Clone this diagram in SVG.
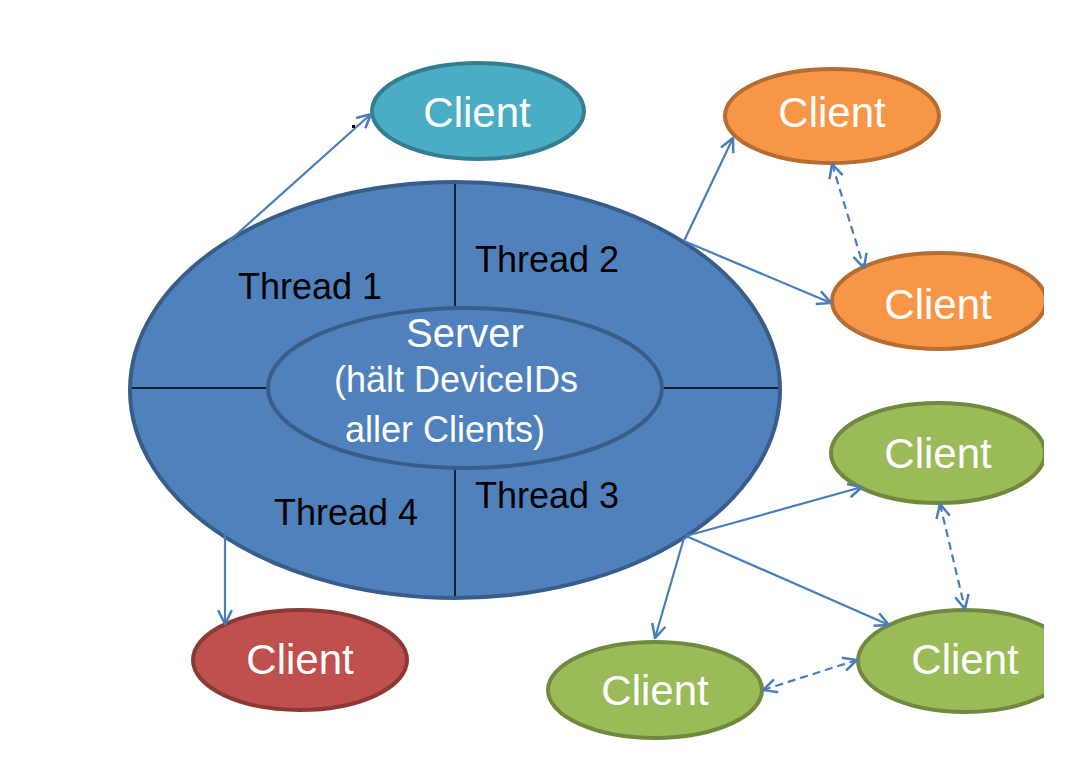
<svg xmlns="http://www.w3.org/2000/svg" width="1088" height="768" viewBox="0 0 1088 768">
<defs>
<clipPath id="page"><rect x="0" y="0" width="1044" height="768"/></clipPath>
<marker id="arr" viewBox="0 0 14 14" refX="13" refY="7" markerWidth="16" markerHeight="16" markerUnits="userSpaceOnUse" orient="auto-start-reverse">
<path d="M1,1 L13,7 L1,13" fill="none" stroke="#4A7EBB" stroke-width="2.2"/>
</marker>
<style>
.srv{fill:#4F81BD;stroke:#385D8A;stroke-width:4}
.div{stroke:#000;stroke-width:1.5}
.thr{font-family:"Liberation Sans",Arial,sans-serif;font-size:36px;fill:#000;text-anchor:middle}
.wt{font-family:"Liberation Sans",Arial,sans-serif;fill:#fff;text-anchor:middle}
.cl{font-size:42px}
.teal{fill:#4BACC6;stroke:#357D91;stroke-width:4}
.orange{fill:#F79646;stroke:#B66D31;stroke-width:4}
.green{fill:#9BBB59;stroke:#71893F;stroke-width:4}
.red{fill:#C0504D;stroke:#8C3836;stroke-width:4}
.con{fill:none;stroke:#4A7EBB;stroke-width:2.2}
.dash{stroke-dasharray:8 5}
</style>
</defs>
<rect width="1088" height="768" fill="#fff"/>
<g clip-path="url(#page)">
<g id="server">
<ellipse class="srv" cx="455" cy="390" rx="325" ry="208"/>
<line class="div" x1="455" y1="184" x2="455" y2="308"/>
<line class="div" x1="455" y1="468" x2="455" y2="596"/>
<line class="div" x1="132" y1="388" x2="268" y2="388"/>
<line class="div" x1="663" y1="388" x2="778" y2="388"/>
<ellipse class="srv" cx="465" cy="388" rx="197" ry="80"/>
<text class="thr" x="310" y="299">Thread 1</text>
<text class="thr" x="547" y="272">Thread 2</text>
<text class="thr" x="547" y="508">Thread 3</text>
<text class="thr" x="346" y="525">Thread 4</text>
<text class="wt" x="465" y="347" font-size="40">Server</text>
<text class="wt" x="456" y="392" font-size="36">(hält DeviceIDs</text>
<text class="wt" x="445" y="442" font-size="36">aller Clients)</text>
</g>
<g id="client-teal">
<ellipse class="teal" cx="478" cy="111" rx="106" ry="48"/>
<text class="wt cl" x="477" y="127">Client</text>
</g>
<g id="client-orange-1">
<ellipse class="orange" cx="832" cy="116" rx="107" ry="47"/>
<text class="wt cl" x="832" y="127">Client</text>
</g>
<g id="client-orange-2">
<ellipse class="orange" cx="939" cy="301" rx="107" ry="48"/>
<text class="wt cl" x="938" y="319">Client</text>
</g>
<g id="client-green-1">
<ellipse class="green" cx="938" cy="453" rx="107" ry="50"/>
<text class="wt cl" x="938" y="468">Client</text>
</g>
<g id="client-green-2">
<ellipse class="green" cx="965" cy="661" rx="107" ry="51"/>
<text class="wt cl" x="965" y="674">Client</text>
</g>
<g id="client-green-3">
<ellipse class="green" cx="655" cy="690" rx="107" ry="48"/>
<text class="wt cl" x="655" y="705">Client</text>
</g>
<g id="client-red">
<ellipse class="red" cx="300" cy="660" rx="107" ry="50"/>
<text class="wt cl" x="300" y="674">Client</text>
</g>
<g id="connectors">
<line class="con" x1="228" y1="242" x2="371" y2="114" marker-end="url(#arr)"/>
<line class="con" x1="684" y1="241" x2="733" y2="138" marker-end="url(#arr)"/>
<line class="con" x1="684" y1="241" x2="831" y2="303" marker-end="url(#arr)"/>
<line class="con dash" x1="832" y1="164" x2="864" y2="268" marker-start="url(#arr)" marker-end="url(#arr)"/>
<line class="con" x1="686" y1="536" x2="862" y2="487" marker-end="url(#arr)"/>
<line class="con" x1="686" y1="536" x2="889" y2="625" marker-end="url(#arr)"/>
<line class="con" x1="684" y1="538" x2="655" y2="638" marker-end="url(#arr)"/>
<line class="con dash" x1="940" y1="504" x2="965" y2="609" marker-start="url(#arr)" marker-end="url(#arr)"/>
<line class="con dash" x1="763" y1="690" x2="857" y2="660" marker-start="url(#arr)" marker-end="url(#arr)"/>
<line class="con" x1="225" y1="535" x2="225" y2="624" marker-end="url(#arr)"/>
</g>
<rect x="352" y="125" width="3" height="3" fill="#000"/>
</g>
</svg>
